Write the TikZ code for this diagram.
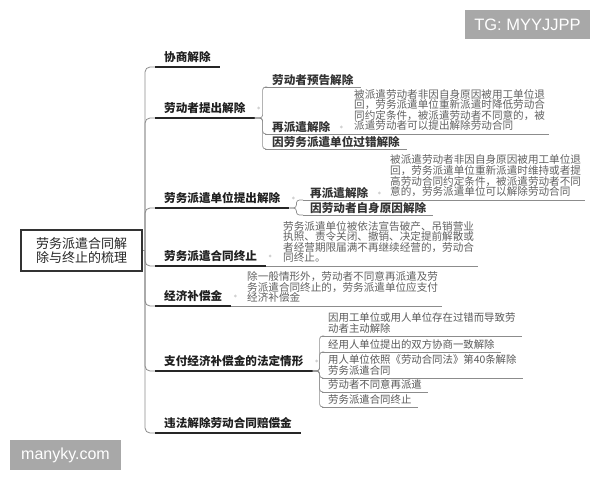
\documentclass[tikz,border=0pt]{standalone}
\usepackage{fontspec}
\setmainfont{Noto Sans CJK SC}
\newfontfamily\wmfont{Liberation Sans}
\usetikzlibrary{calc}

\begin{document}
\begin{tikzpicture}[x=1pt,y=-1pt,
    every node/.style={inner sep=0pt},
    rootbox/.style={draw=black!80,line width=1.8pt,minimum width=121pt,minimum height=41pt,
        align=center,text=black!85,font=\fontsize{13}{14}\selectfont},
    lvone/.style={anchor=south west,inner xsep=9pt,inner ysep=4.1pt,text height=10pt,text depth=1.5pt,
        text=black!88,font=\fontsize{11.6}{11.6}\selectfont\bfseries},
    lvtwo/.style={anchor=south west,inner xsep=7pt,inner ysep=1.1pt,text height=10pt,text depth=1.5pt,
        text=black!80,font=\fontsize{11.6}{11.6}\selectfont\bfseries},
    note/.style={anchor=south west,inner xsep=4pt,inner ysep=3pt,align=left,
        text=black!62,font=\fontsize{10.6}{10.6}\selectfont},
    itemtext/.style={anchor=south west,inner xsep=6pt,inner ysep=2.5pt,align=left,
        text=black!65,font=\fontsize{10.4}{10.5}\selectfont},
    wmark/.style={fill=black!34,text=white,font=\wmfont\fontsize{16.5}{16.5}\selectfont},
    trunk/.style={draw=black!45,line width=0.8pt,rounded corners=5pt},
    twig/.style={draw=black!45,line width=0.7pt,rounded corners=3pt},
    thickline/.style={draw=black!85,line width=1.8pt},
    thinline/.style={draw=black!45,line width=0.7pt},
    knob/.style={circle,fill=black!18,minimum size=3pt}]

\useasboundingbox[fill=white] (0,0) rectangle (600,480);

% Root
\node[rootbox] (root) at (81.5,250.5) {劳务派遣合同解\\除与终止的梳理};
\coordinate (hub) at (145,250.5);
\draw[thinline] (root.east) -- (hub);

% First level
\node[lvone] (xieshang) at (155,67) {协商解除};
\node[lvone] (laodongzhe) at (155,118) {劳动者提出解除};
\node[lvone] (danwei) at (155,208) {劳务派遣单位提出解除};
\node[lvone] (zhongzhi) at (155,266) {劳务派遣合同终止};
\node[lvone] (buchang) at (155,306) {经济补偿金};
\node[lvone] (qingxing) at (155,371) {支付经济补偿金的法定情形};
\node[lvone] (peichang) at (155,433) {违法解除劳动合同赔偿金};

\foreach \n in {xieshang,laodongzhe,danwei,zhongzhi,buchang,qingxing,peichang}{
    \draw[trunk] (hub) |- (\n.south west);
    \draw[thickline] (\n.south west) -- (\n.south east);
}

% Worker side
\node[lvtwo] (yugao) at (265,87) {劳动者预告解除};
\node[lvtwo] (zaipai) at (265,134) {再派遣解除};
\node[lvtwo] (guocuo) at (265,149) {因劳务派遣单位过错解除};
\node[note] (zaipainote) at (350,134) {被派遣劳动者非因自身原因被用工单位退\\
    回，劳务派遣单位重新派遣时降低劳动合\\
    同约定条件，被派遣劳动者不同意的，被\\
    派遣劳动者可以提出解除劳动合同};

\foreach \n in {yugao,zaipai,guocuo}{
    \draw[twig] (laodongzhe.south east) -- ++(8,0) |- (\n.south west);
}
\draw[thinline] (yugao.south west) -- (yugao.south east);
\draw[thinline] (zaipai.south west) -- (zaipainote.south east);
\draw[thinline] (guocuo.south west) -- (guocuo.south east);

% Dispatch unit side
\node[lvtwo] (zaipaib) at (303,200) {再派遣解除};
\node[lvtwo] (zishen) at (303,215) {因劳动者自身原因解除};
\node[note] (zaipaibnote) at (386,200) {被派遣劳动者非因自身原因被用工单位退\\
    回，劳务派遣单位重新派遣时维持或者提\\
    高劳动合同约定条件，被派遣劳动者不同\\
    意的，劳务派遣单位可以解除劳动合同};

\foreach \n in {zaipaib,zishen}{
    \draw[twig] (danwei.south east) -- ++(7,0) |- (\n.south west);
}
\draw[thinline] (zaipaib.south west) -- (zaipaibnote.south east);
\draw[thinline] (zishen.south west) -- (zishen.south east);

% Termination and compensation notes
\node[note] (zhongzhinote) at (279,266) {劳务派遣单位被依法宣告破产、吊销营业\\
    执照、责令关闭、撤销、决定提前解散或\\
    者经营期限届满不再继续经营的，劳动合\\
    同终止。};
\node[note] (buchangnote) at (243,306) {除一般情形外，劳动者不同意再派遣及劳\\
    务派遣合同终止的，劳务派遣单位应支付\\
    经济补偿金};
\draw[thinline] (zhongzhi.south east) -- (zhongzhinote.south east);
\draw[thinline] (buchang.south east) -- (buchangnote.south east);

% Statutory cases
\node[itemtext] (guocuob) at (322,336) {因用工单位或用人单位存在过错而导致劳\\动者主动解除};
\node[itemtext] (xieshangb) at (322,352) {经用人单位提出的双方协商一致解除};
\node[itemtext] (disishi) at (322,378) {用人单位依照《劳动合同法》第40条解除\\劳务派遣合同};
\node[itemtext] (butongyi) at (322,392) {劳动者不同意再派遣};
\node[itemtext] (zhongzhib) at (322,407) {劳务派遣合同终止};

\foreach \n in {guocuob,xieshangb,disishi,butongyi,zhongzhib}{
    \draw[twig] (qingxing.south east) -- ++(7,0) |- (\n.south west);
    \draw[thinline] (\n.south west) -- (\n.south east);
}

% Collapse dots
\foreach \n in {laodongzhe,danwei,zhongzhi,buchang,qingxing,zaipai,zaipaib}{
    \node[knob] (k\n) at ($(\n.east)+(4,0)$) {};
}

% Watermarks
\node[wmark,minimum width=125pt,minimum height=29pt] (tg) at (527.5,24.5) {TG: MYYJJPP};
\node[wmark,minimum width=111pt,minimum height=30pt,font=\wmfont\fontsize{16}{16}\selectfont] (site) at (65.5,455) {manyky.com};

\end{tikzpicture}
\end{document}
